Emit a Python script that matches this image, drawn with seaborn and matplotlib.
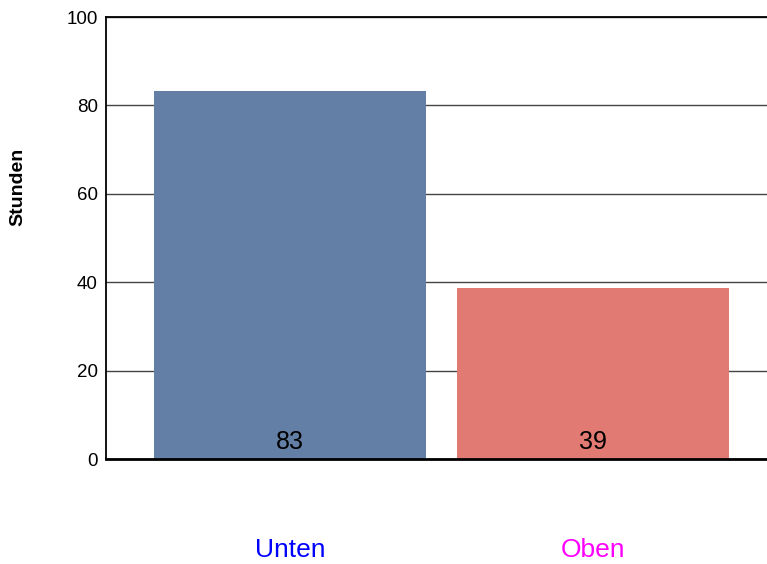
import matplotlib.pyplot as plt
import pandas as pd
import seaborn as sns

categories = ["Unten", "Oben"]
hours = [83.3, 38.7]
bar_colors = ["#647fa6", "#e07a73"]
label_colors = ["#0000ff", "#ff00ff"]

df = pd.DataFrame({"Position": categories, "Stunden": hours})

sns.set_style("white")
plt.rcParams["font.family"] = ["Liberation Sans", "DejaVu Sans"]

fig = plt.figure(figsize=(7.67, 5.64), dpi=100)
ax = fig.add_axes([106 / 767, 105 / 564, 661 / 767, 442 / 564])

sns.barplot(
    data=df,
    x="Position",
    y="Stunden",
    hue="Position",
    palette=bar_colors,
    legend=False,
    width=0.9,
    saturation=1,
    linewidth=0,
    ax=ax,
    zorder=2,
)

ax.set_ylim(0, 100)
ax.set_xlim(-0.607, 1.574)
ax.set_yticks([0, 20, 40, 60, 80, 100])
ax.yaxis.grid(True, color="#444444", linewidth=1, zorder=0)
ax.set_axisbelow(True)

# value labels sit at the foot of each bar
for i, v in enumerate(hours):
    ax.annotate(f"{v:.0f}", (i, 0), xytext=(0, 3.5), textcoords="offset points",
                ha="center", va="bottom", fontsize=18, color="black")

ax.tick_params(axis="y", length=0, pad=6, labelsize=13.5, labelcolor="black")
ax.tick_params(axis="x", length=0, pad=57, labelsize=19)
for lbl, c in zip(ax.get_xticklabels(), label_colors):
    lbl.set_color(c)

ax.set_xlabel("")
ax.set_ylabel("Stunden", fontsize=14, fontweight="bold", color="black")
ax.yaxis.set_label_coords(-0.12, 0.615)

for side in ["left", "top"]:
    ax.spines[side].set_color("black")
    ax.spines[side].set_linewidth(1.3)
ax.spines["bottom"].set_color("black")
ax.spines["bottom"].set_linewidth(2)
ax.spines["right"].set_visible(False)

fig.savefig("out.png", dpi=100)
